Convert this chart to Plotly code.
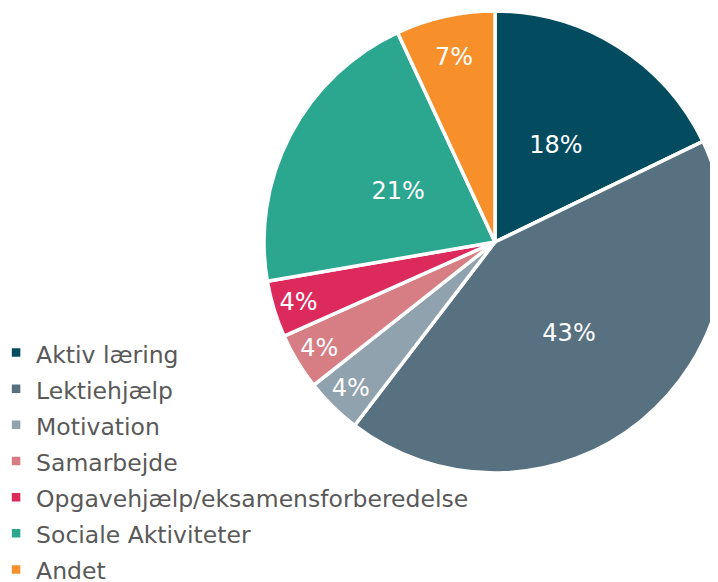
import plotly.graph_objects as go

categories = ["Aktiv læring", "Lektiehjælp", "Motivation", "Samarbejde",
              "Opgavehjælp/eksamensforberedelse", "Sociale Aktiviteter", "Andet"]
values = [18, 43, 4, 4, 4, 21, 7]
colors = ["#034B5F", "#577180", "#8FA2AE", "#D67E84", "#DC2A5D", "#2BA68F", "#F78F2B"]
# which slices get their percentage label placed nearer the centre
inner_label = [True, False, False, False, False, True, False]

legend_labels = ['<span style="font-size:23.5px">' + c + '</span>' for c in categories]

W, H = 718, 582
# page body adds an 8px offset; figure coords = screen coords - 8
cx, cy, R = 487, 234, 231
Ri = 0.76 * R


def dom(r):
    return dict(x=[(cx - r) / W, (cx + r) / W],
                y=[(H - (cy + r)) / H, (H - (cy - r)) / H])


outer_tt = ["" if f else "%{percent:.0%}" for f in inner_label]
inner_tt = ["%{percent:.0%}" if f else "" for f in inner_label]

fig = go.Figure()
fig.add_trace(go.Pie(
    labels=legend_labels,
    values=values,
    sort=False,
    direction="clockwise",
    rotation=0,
    marker=dict(colors=colors, line=dict(color="white", width=3.5)),
    texttemplate=outer_tt,
    textposition="inside",
    insidetextorientation="horizontal",
    textfont=dict(color="white", size=24, family="DejaVu Sans"),
    domain=dom(R),
    hoverinfo="label+percent",
))
fig.add_trace(go.Pie(
    labels=legend_labels,
    values=values,
    sort=False,
    direction="clockwise",
    rotation=0,
    marker=dict(colors=["rgba(0,0,0,0)"] * len(values), line=dict(width=0)),
    texttemplate=inner_tt,
    textposition="inside",
    insidetextorientation="horizontal",
    textfont=dict(color="white", size=24, family="DejaVu Sans"),
    domain=dom(Ri),
    hoverinfo="skip",
    showlegend=False,
))

fig.update_layout(
    width=W, height=H,
    margin=dict(l=0, r=0, t=0, b=0, autoexpand=False),
    paper_bgcolor="white",
    font=dict(family="DejaVu Sans", color="#595959"),
    uniformtext=dict(minsize=24, mode="show"),
    showlegend=True,
    legend=dict(
        x=-0.0166, y=0.4476, xanchor="left", yanchor="top",
        font=dict(size=25.5, color="#595959", family="DejaVu Sans"),
        bgcolor="rgba(0,0,0,0)",
    ),
)

fig.write_html("out.html")
